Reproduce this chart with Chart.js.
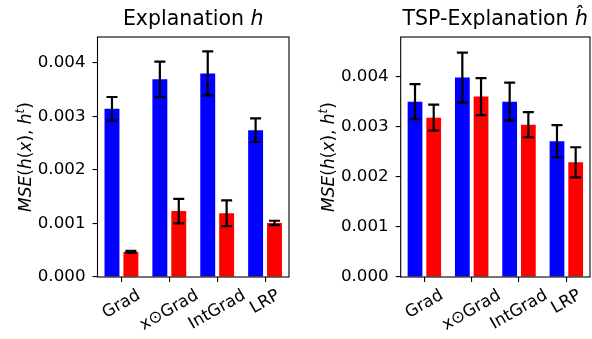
<!DOCTYPE html>
<html>
<head>
<meta charset="utf-8">
<script src="https://cdn.jsdelivr.net/npm/chart.js@4.4.0/dist/chart.umd.min.js"></script>
<style>
  body { margin: 0; background: #fff; }
  #wrap { position: relative; width: 592px; height: 339px; }
  .panel { position: absolute; top: 0; height: 339px; }
  #p1 { left: 0; width: 300px; }
  #p2 { left: 300px; width: 292px; }
</style>
</head>
<body>
<div id="wrap">
  <div class="panel" id="p1"><canvas id="c1"></canvas></div>
  <div class="panel" id="p2"><canvas id="c2"></canvas></div>
</div>
<script>
var methods = ["Grad", "x\u2299Grad", "IntGrad", "LRP"];
var yTicks = [0, 0.001, 0.002, 0.003, 0.004];

// explanation h
var hBlue = [0.00314, 0.00369, 0.00380, 0.00274];
var hBlueErr = [0.00022, 0.00033, 0.00041, 0.00022];
var hRed = [0.00047, 0.00123, 0.00119, 0.00101];
var hRedErr = [0.00002, 0.00023, 0.00024, 0.00004];

// TSP explanation h-hat
var tspBlue = [0.00350, 0.00398, 0.00350, 0.00271];
var tspBlueErr = [0.00035, 0.00050, 0.00038, 0.00032];
var tspRed = [0.00318, 0.00360, 0.00304, 0.00229];
var tspRedErr = [0.00026, 0.00037, 0.00025, 0.00030];

var FONT = "'DejaVu Sans', sans-serif";
var BASE = 16.7;

function fontFor(run, size) {
  var s = run.sup ? size * 0.7 : size;
  return (run.it ? "oblique " : "") + s + "px " + FONT;
}

// draws a row of text pieces (some italic / superscript) centred on x
function drawRuns(ctx, runs, x, y, size) {
  var total = 0;
  runs.forEach(function(r) {
    ctx.font = fontFor(r, size);
    r.w = ctx.measureText(r.t).width;
    total += r.w;
  });
  var cx = x - total / 2;
  ctx.textAlign = "left";
  ctx.textBaseline = "alphabetic";
  runs.forEach(function(r) {
    ctx.font = fontFor(r, size);
    ctx.fillText(r.t, cx, r.sup ? y - size * 0.38 : y);
    cx += r.w;
  });
}

var yLabelRuns = [
  {t: "MSE", it: true}, {t: "("}, {t: "h", it: true}, {t: "("}, {t: "x", it: true},
  {t: ")"}, {t: ", "}, {t: "h", it: true}, {t: "t", it: true, sup: true}, {t: ")"}
];

var decorPlugin = {
  id: "decor",
  afterDatasetsDraw: function(chart) {
    var ctx = chart.ctx;
    var y = chart.scales.y;
    var errs = chart.options.plugins.decor.errors;
    ctx.save();
    ctx.strokeStyle = "#000";
    ctx.lineWidth = 2.2;
    chart.data.datasets.forEach(function(ds, di) {
      var meta = chart.getDatasetMeta(di);
      meta.data.forEach(function(bar, i) {
        var v = ds.data[i], e = errs[di][i];
        var top = y.getPixelForValue(v + e);
        var bot = y.getPixelForValue(v - e);
        ctx.beginPath();
        ctx.moveTo(bar.x, top); ctx.lineTo(bar.x, bot);
        ctx.moveTo(bar.x - 5.5, top); ctx.lineTo(bar.x + 5.5, top);
        ctx.moveTo(bar.x - 5.5, bot); ctx.lineTo(bar.x + 5.5, bot);
        ctx.stroke();
      });
    });
    ctx.restore();
  },
  afterDraw: function(chart) {
    var ctx = chart.ctx;
    var a = chart.chartArea;
    var opts = chart.options.plugins.decor;
    ctx.save();
    ctx.fillStyle = "#000";
    ctx.strokeStyle = "#000";
    ctx.lineWidth = 1.1;
    ctx.strokeRect(a.left, a.top, a.right - a.left, a.bottom - a.top);

    drawRuns(ctx, opts.title, (a.left + a.right) / 2, 25, 20.5);

    ctx.save();
    ctx.translate(a.left - 67, (a.top + a.bottom) / 2);
    ctx.rotate(-Math.PI / 2);
    drawRuns(ctx, yLabelRuns, 0, 0, 17);
    ctx.restore();

    // x labels, rotated 30 degrees, centred under each tick
    var xs = chart.scales.x;
    var ang = Math.PI / 6;
    ctx.font = BASE + "px " + FONT;
    ctx.textAlign = "center";
    ctx.textBaseline = "middle";
    methods.forEach(function(m, i) {
      var w = ctx.measureText(m).width;
      var h = BASE;
      var bh = w * Math.sin(ang) + h * Math.cos(ang);
      var cx = xs.getPixelForTick(i);
      var cy = a.bottom + 10 + bh / 2;
      ctx.save();
      ctx.translate(cx, cy);
      ctx.rotate(-ang);
      ctx.fillText(m, 0, 0);
      ctx.restore();
    });
    ctx.restore();
  }
};

function makeChart(id, blue, blueErr, red, redErr, yMax, title, padRight, leftW) {
  return new Chart(document.getElementById(id).getContext("2d"), {
    type: "bar",
    data: {
      labels: methods,
      datasets: [
        {data: blue, backgroundColor: "#0000ff", categoryPercentage: 0.79, barPercentage: 0.79},
        {data: red, backgroundColor: "#ff0000", categoryPercentage: 0.79, barPercentage: 0.79}
      ]
    },
    options: {
      responsive: true,
      maintainAspectRatio: false,
      animation: false,
      layout: {padding: {top: 37, right: padRight, left: 0, bottom: 0}},
      plugins: {
        legend: {display: false},
        tooltip: {enabled: false},
        decor: {errors: [blueErr, redErr], title: title}
      },
      scales: {
        x: {
          type: "category",
          offset: true,
          grid: {display: true, offset: false, drawOnChartArea: false, drawTicks: true, tickLength: 5, color: "#000", lineWidth: 1.1},
          border: {display: false},
          ticks: {display: false},
          afterFit: function(s) { s.height = 62; }
        },
        y: {
          min: 0,
          max: yMax,
          afterBuildTicks: function(s) { s.ticks = yTicks.map(function(v) { return {value: v}; }); },
          grid: {display: true, drawOnChartArea: false, drawTicks: true, tickLength: 5, color: "#000", lineWidth: 1.1},
          border: {display: false},
          ticks: {
            color: "#000",
            padding: 7,
            font: {family: FONT, size: BASE},
            callback: function(v) { return v.toFixed(3); }
          },
          afterFit: function(s) { s.width = leftW; }
        }
      }
    },
    plugins: [decorPlugin]
  });
}

makeChart("c1", hBlue, hBlueErr, hRed, hRedErr, 0.00448,
  [{t: "Explanation "}, {t: "h", it: true}], 11, 97.5);
makeChart("c2", tspBlue, tspBlueErr, tspRed, tspRedErr, 0.00479,
  [{t: "TSP-Explanation "}, {t: "\u0125", it: true}], 2, 100.7);
</script>
</body>
</html>
